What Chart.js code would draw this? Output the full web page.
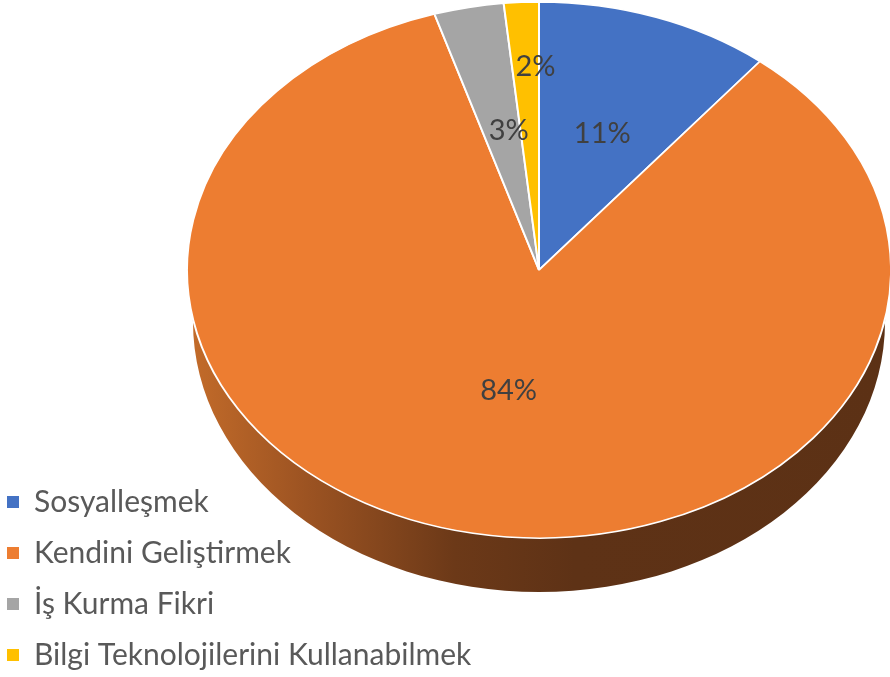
<!DOCTYPE html>
<html>
<head>
<meta charset="utf-8">
<script src="https://cdn.jsdelivr.net/npm/chart.js@4/dist/chart.umd.min.js"></script>
<style>
  html, body { margin: 0; padding: 0; background: #ffffff; }
  #c { display: block; }
</style>
</head>
<body>
<canvas id="c" width="890" height="677"></canvas>
<script>
// ---- data ----
const categories = ['Sosyalleşmek', 'Kendini Geliştirmek', 'İş Kurma Fikri', 'Bilgi Teknolojilerini Kullanabilmek'];
const percentValues = [10.8, 84.4, 3.2, 1.6];
const valueLabels = ['11%', '84%', '3%', '2%'];

// ---- styles ----
const sliceColors = ['#4472C4', '#ED7D31', '#A5A5A5', '#FFC000'];
const labelRadiusFactor = [0.54, 0.46, 0.53, 0.76];
const labelShiftX = [0, 0, 7, 10];
const FONT = 'Lato, "Open Sans", sans-serif';

// 3D projection of the pie (screen space)
const VIEW = { cx: 539, cy: 270, ry: 268, depth: 52, bottomShrink: 6 };
const LEGEND_BOX = { left: -14, bottom: 691 };

const pie3d = {
  id: 'pie3d',
  afterLayout(chart) {
    const lg = chart.legend;
    if (lg) {
      const w = lg.right - lg.left;
      lg.left = LEGEND_BOX.left;
      lg.right = lg.left + w;
      lg.bottom = LEGEND_BOX.bottom;
    }
  },
  beforeDatasetsDraw(chart) {
    const ctx = chart.ctx;
    const meta = chart.getDatasetMeta(0);
    const a0 = meta.data[0];
    const R = a0.outerRadius;
    const k = VIEW.ry / R;
    // side walls (front half only), built from each arc's angles
    const grad = ctx.createLinearGradient(VIEW.cx - R, 0, VIEW.cx + R, 0);
    grad.addColorStop(0.0, '#c46c2a');
    grad.addColorStop(0.17, '#9c5322');
    grad.addColorStop(0.38, '#6c3918');
    grad.addColorStop(0.55, '#5e3216');
    grad.addColorStop(1.0, '#5c3115');
    ctx.save();
    meta.data.forEach((arc) => {
      const s = arc.startAngle, e = arc.endAngle;
      for (const off of [-2 * Math.PI, 0, 2 * Math.PI]) {
        const lo = Math.max(s + off, 0), hi = Math.min(e + off, Math.PI);
        if (hi > lo) {
          ctx.beginPath();
          ctx.ellipse(VIEW.cx, VIEW.cy, R, VIEW.ry, 0, lo, hi, false);
          ctx.ellipse(VIEW.cx, VIEW.cy + VIEW.depth, R - VIEW.bottomShrink, VIEW.ry + 2, 0, hi, lo, true);
          ctx.closePath();
          ctx.fillStyle = grad;
          ctx.fill();
        }
      }
    });
    ctx.restore();
    // flatten the top face
    ctx.save();
    ctx.translate(VIEW.cx, VIEW.cy);
    ctx.scale(1, k);
    ctx.translate(-a0.x, -a0.y);
  },
  afterDatasetsDraw(chart) {
    const ctx = chart.ctx;
    ctx.restore();
    const meta = chart.getDatasetMeta(0);
    const R = meta.data[0].outerRadius;
    const k = VIEW.ry / R;
    ctx.save();
    ctx.font = '29px ' + FONT;
    ctx.fillStyle = '#404040';
    ctx.textAlign = 'center';
    ctx.textBaseline = 'middle';
    meta.data.forEach((arc, i) => {
      const mid = (arc.startAngle + arc.endAngle) / 2;
      const r = R * labelRadiusFactor[i];
      const x = VIEW.cx + r * Math.cos(mid) + labelShiftX[i];
      const y = VIEW.cy + k * r * Math.sin(mid);
      ctx.fillText(valueLabels[i], x, y);
    });
    ctx.restore();
  }
};

new Chart(document.getElementById('c'), {
  type: 'pie',
  data: {
    labels: categories,
    datasets: [{
      data: percentValues,
      backgroundColor: sliceColors,
      borderColor: '#ffffff',
      borderWidth: 2,
      clip: false
    }]
  },
  options: {
    responsive: false,
    animation: false,
    devicePixelRatio: 1,
    radius: 352,
    plugins: {
      tooltip: { enabled: false },
      legend: {
        position: 'chartArea',
        align: 'end',
        labels: {
          boxWidth: 12,
          boxHeight: 12,
          padding: 21,
          color: '#595959',
          font: { family: FONT, size: 30 },
          generateLabels: (chart) =>
            Chart.overrides.pie.plugins.legend.labels.generateLabels(chart)
              .map(l => Object.assign({}, l, { lineWidth: 0 }))
        }
      }
    }
  },
  plugins: [pie3d]
});
</script>
</body>
</html>
